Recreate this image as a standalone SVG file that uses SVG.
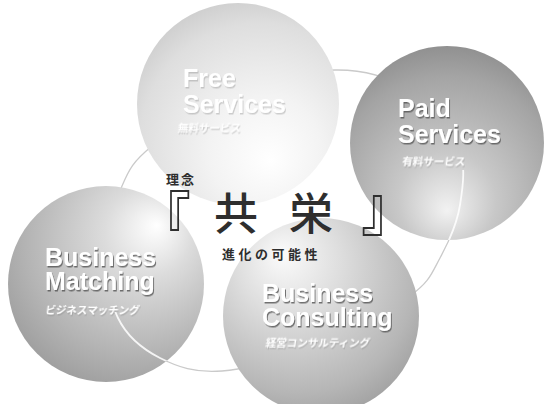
<svg xmlns="http://www.w3.org/2000/svg" width="545" height="404" viewBox="0 0 545 404">
<style>
.lab{font-family:"Liberation Sans",Arial,sans-serif;font-weight:bold;font-size:25px;fill:#ffffff}
.sub{font-family:"Noto Sans CJK JP",sans-serif;font-weight:bold;font-size:10.5px;fill:#ffffff}
.cj{font-family:"Noto Sans CJK JP",sans-serif;fill:#2e2e2e}
.ring{fill:none;stroke:#cacaca;stroke-width:1.3}
.ringw{fill:none;stroke:#ffffff;stroke-width:1.8;opacity:0.85}
</style>
<defs>
<radialGradient id="gFree" cx="0.6" cy="0.68" r="0.7" fx="0.66" fy="0.78">
<stop offset="0" stop-color="#ffffff"/><stop offset="0.4" stop-color="#f3f3f3"/><stop offset="0.85" stop-color="#dedede"/><stop offset="1" stop-color="#d0d0d0"/>
</radialGradient>
<radialGradient id="gPaid" cx="0.5" cy="0.7" r="0.72" fx="0.5" fy="0.85">
<stop offset="0" stop-color="#f2f2f2"/><stop offset="0.35" stop-color="#c8c8c8"/><stop offset="0.8" stop-color="#a4a4a4"/><stop offset="1" stop-color="#8e8e8e"/>
</radialGradient>
<radialGradient id="gMatch" cx="0.62" cy="0.32" r="0.75" fx="0.76" fy="0.2">
<stop offset="0" stop-color="#ffffff"/><stop offset="0.3" stop-color="#dcdcdc"/><stop offset="0.75" stop-color="#b4b4b4"/><stop offset="1" stop-color="#9c9c9c"/>
</radialGradient>
<radialGradient id="gCons" cx="0.4" cy="0.32" r="0.75" fx="0.3" fy="0.18">
<stop offset="0" stop-color="#fbfbfb"/><stop offset="0.35" stop-color="#dedede"/><stop offset="0.8" stop-color="#b6b6b6"/><stop offset="1" stop-color="#9e9e9e"/>
</radialGradient>
<filter id="sh" x="-10%" y="-20%" width="130%" height="150%">
<feDropShadow dx="1" dy="1.5" stdDeviation="0.6" flood-color="#555555" flood-opacity="0.8"/>
</filter>
<filter id="shL" x="-10%" y="-20%" width="130%" height="150%">
<feDropShadow dx="1" dy="1.5" stdDeviation="0.6" flood-color="#777777" flood-opacity="0.32"/>
</filter>
<clipPath id="cpM"><circle cx="106" cy="284" r="98"/></clipPath>
<clipPath id="rpM"><rect x="100" y="312" width="120" height="80"/></clipPath>
<clipPath id="cpP"><circle cx="447" cy="143" r="97"/></clipPath>
<clipPath id="rpP"><rect x="400" y="170" width="100" height="100"/></clipPath>
<path id="ringPath" d="M122,186 C129.3,168.7 133.2,161.5 152,146 C170.8,130.5 204.5,105.7 235,93 C265.5,80.3 305.8,70.5 335,70 C364.2,69.5 389.5,77.5 410,90 C430.5,102.5 449.7,125.8 458,145 C466.3,164.2 463,186.2 460,205 C457,223.8 448.3,242.8 440,258 C431.7,273.2 430,281.5 410,296 C390,310.5 351.3,332.5 320,345 C288.7,357.5 248.7,368.8 222,371 C195.3,373.2 177.3,366.8 160,358 C142.7,349.2 126.7,336 118,318 C109.3,300 107.3,272 108,250 C108.7,228 114.7,203.3 122,186 Z"/>
</defs>
<rect width="545" height="404" fill="#ffffff"/>
<g id="connectors">
<use href="#ringPath" class="ring"/>
</g>
<g id="free-services">
<circle cx="238" cy="104" r="101" fill="url(#gFree)"/>
<text class="lab" x="183" y="87" filter="url(#shL)">Free</text>
<text class="lab" x="183" y="113" filter="url(#shL)">Services</text>
<text class="sub" x="178" y="132" font-size="10" filter="url(#shL)" transform="skewX(-8) translate(18,0)">無料サービス</text>
</g>
<g id="paid-services">
<circle cx="447" cy="143" r="97" fill="url(#gPaid)"/>
<text class="lab" x="398" y="117" filter="url(#sh)">Paid</text>
<text class="lab" x="398" y="143" filter="url(#sh)">Services</text>
<text class="sub" x="402" y="165" font-size="10" filter="url(#shL)" transform="skewX(-8) translate(23,0)">有料サービス</text>
</g>
<g id="business-matching">
<circle cx="106" cy="284" r="98" fill="url(#gMatch)"/>
<text class="lab" x="45" y="266" font-size="24" filter="url(#sh)">Business</text>
<text class="lab" x="45" y="290" font-size="24" filter="url(#sh)">Matching</text>
<text class="sub" x="45" y="314" filter="url(#shL)" transform="skewX(-8) translate(44,0)">ビジネスマッチング</text>
</g>
<g id="business-consulting">
<circle cx="321" cy="316" r="98" fill="url(#gCons)"/>
<text class="lab" x="262" y="302" font-size="24" filter="url(#sh)">Business</text>
<text class="lab" x="262" y="326" font-size="24" filter="url(#sh)">Consulting</text>
<text class="sub" x="265" y="347" filter="url(#shL)" transform="skewX(-8) translate(49,0)">経営コンサルティング</text>
</g>
<g id="ring-highlight">
<g clip-path="url(#cpM)"><g clip-path="url(#rpM)"><use href="#ringPath" class="ringw"/></g></g>
<g clip-path="url(#cpP)"><g clip-path="url(#rpP)"><use href="#ringPath" class="ringw"/></g></g>
</g>
<g id="concept">
<text class="cj" x="166" y="184" font-size="13" font-weight="bold" letter-spacing="2">理念</text>
<text class="cj" font-size="52" transform="translate(139,243) scale(1,1.2)">『</text>
<text class="cj" x="214" y="230" font-size="44" font-weight="500">共</text>
<text class="cj" x="289" y="230" font-size="44" font-weight="500">栄</text>
<text class="cj" font-size="52" transform="translate(361,231) scale(1,1.2)">』</text>
<text class="cj" x="222" y="259" font-size="13" font-weight="bold" letter-spacing="3.5">進化の可能性</text>
</g>
</svg>
